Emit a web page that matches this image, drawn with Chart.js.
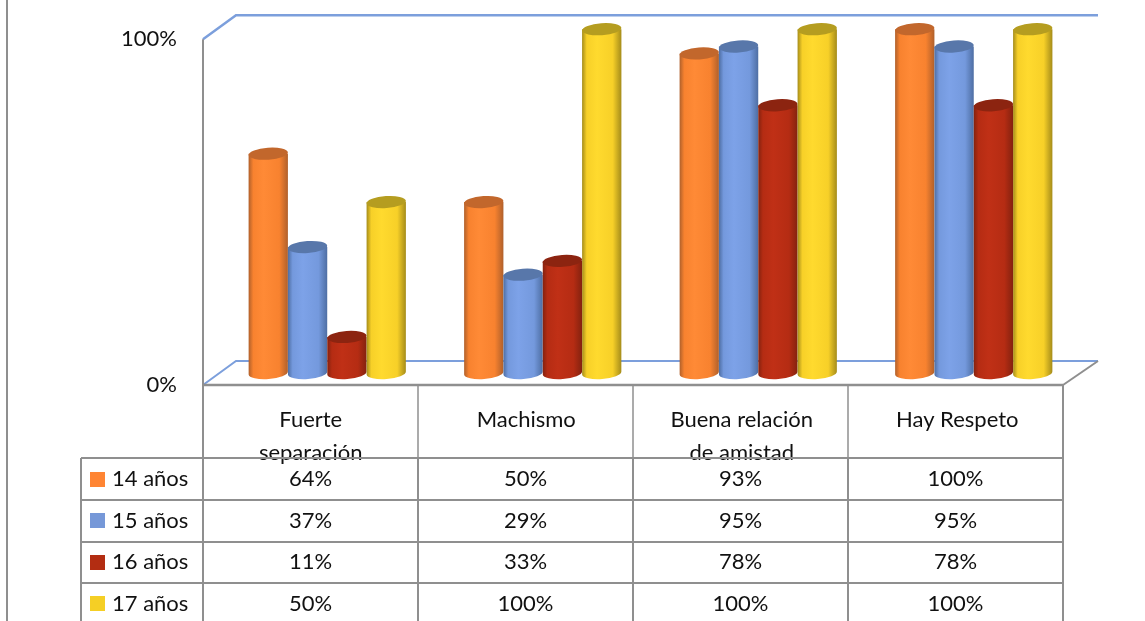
<!DOCTYPE html>
<html>
<head>
<meta charset="utf-8">
<style>
  html, body { margin: 0; padding: 0; background: #fff; overflow: hidden; }
  canvas { display: block; }
</style>
<script src="https://cdn.jsdelivr.net/npm/chart.js@4/dist/chart.umd.min.js"></script>
</head>
<body>
<canvas id="myChart" width="1145" height="621"></canvas>
<script>
const categories = [['Fuerte', 'separación'], ['Machismo'], ['Buena relación', 'de amistad'], ['Hay Respeto']];
const seriesNames = ['14 años', '15 años', '16 años', '17 años'];
const values14 = [64, 50, 93, 100];
const values15 = [37, 29, 95, 95];
const values16 = [11, 33, 78, 78];
const values17 = [50, 100, 100, 100];
const yTicks = [0, 100];

const keyColors = ['#FF8533', '#7698D8', '#B32D12', '#F5CF25'];
// edge, highlight, mid, top of each cylinder
const shades = [
  ['#B0602B', '#FF8A36', '#F8822F', '#C2672C'],
  ['#4E6EA3', '#7DA2E8', '#7499DD', '#5877AA'],
  ['#84220F', '#C03016', '#B52C13', '#8C2410'],
  ['#A58C1A', '#FFDA2E', '#F7D028', '#B59D20'],
];

const FONT = 'Lato, sans-serif';
const GREY = '#8f8f8f';
const BLUE = '#7C9FDC';
const depthX = 33, depthY = 24;
const tableRight = 1063, colWidth = 215, legendLeft = 81;
const rowLines = [458, 500, 542, 583];
const rowText = [479, 521, 562, 604];
const keyTops = [472, 513, 555, 596];

function line(ctx, color, width, pts) {
  ctx.strokeStyle = color;
  ctx.lineWidth = width;
  ctx.beginPath();
  pts.forEach((p, i) => (i ? ctx.lineTo(p[0], p[1]) : ctx.moveTo(p[0], p[1])));
  ctx.stroke();
}

function cylinder(ctx, el, shade) {
  const props = el.getProps(['x', 'y', 'base', 'width'], true);
  const cx = props.x + depthX / 2, rx = props.width / 2, ry = 6, tilt = -0.07;
  const top = props.y - depthY / 2 + 2, bottom = props.base - depthY / 2;

  const grad = ctx.createLinearGradient(cx - rx, 0, cx + rx, 0);
  grad.addColorStop(0, shade[0]);
  grad.addColorStop(0.12, shade[2]);
  grad.addColorStop(0.38, shade[1]);
  grad.addColorStop(0.78, shade[2]);
  grad.addColorStop(1, shade[0]);

  ctx.fillStyle = grad;
  ctx.beginPath();
  ctx.ellipse(cx, bottom, rx, ry, tilt, 0, Math.PI);
  ctx.lineTo(cx - rx, top);
  ctx.lineTo(cx + rx, top);
  ctx.closePath();
  ctx.fill();

  ctx.fillStyle = shade[3];
  ctx.beginPath();
  ctx.ellipse(cx, top, rx, ry, tilt, 0, Math.PI * 2);
  ctx.fill();
}

const cylinders = {
  id: 'cylinders',
  beforeDatasetsDraw(chart) {
    const { ctx, chartArea: a } = chart;
    ctx.save();
    // back wall and floor
    line(ctx, BLUE, 2.5, [[a.left, a.top], [a.left + depthX, a.top - depthY], [a.right + depthX, a.top - depthY]]);
    line(ctx, BLUE, 2, [[a.left, a.bottom], [a.left + depthX, a.bottom - depthY], [a.right + depthX, a.bottom - depthY]]);
    line(ctx, GREY, 2, [[a.left, a.top], [a.left, a.bottom]]);
    line(ctx, GREY, 2, [[a.right + depthX, a.bottom - depthY], [tableRight, a.bottom]]);
    line(ctx, GREY, 2.5, [[a.left, a.bottom], [tableRight, a.bottom]]);

    categories.forEach((c, i) => {
      chart.data.datasets.forEach((ds, d) => {
        cylinder(ctx, chart.getDatasetMeta(d).data[i], shades[d]);
      });
    });
    ctx.restore();
    return false;
  },
};

const dataTable = {
  id: 'dataTable',
  afterDraw(chart) {
    const { ctx, chartArea: a } = chart;
    const datasets = chart.data.datasets;
    ctx.save();
    // page frame on the far left
    line(ctx, GREY, 2, [[7, 0], [7, 621]]);
    // rows
    rowLines.forEach(y => line(ctx, GREY, 2, [[legendLeft, y], [tableRight, y]]));
    // columns
    line(ctx, GREY, 2, [[legendLeft, rowLines[0]], [legendLeft, 621]]);
    categories.forEach((c, i) => {
      const x = a.left + colWidth * i;
      line(ctx, GREY, i ? 1.5 : 2, [[x, a.bottom], [x, rowLines[0]]]);
      line(ctx, GREY, 2, [[x, rowLines[0]], [x, 621]]);
    });
    line(ctx, GREY, 2, [[tableRight, a.bottom], [tableRight, 621]]);

    ctx.font = '22px ' + FONT;
    ctx.fillStyle = '#111';
    ctx.textBaseline = 'middle';
    datasets.forEach((ds, d) => {
      ctx.fillStyle = keyColors[d];
      ctx.fillRect(90, keyTops[d], 15, 15);
      ctx.fillStyle = '#111';
      ctx.textAlign = 'left';
      ctx.fillText(ds.label, 112, rowText[d]);
      ctx.textAlign = 'center';
      ds.data.forEach((v, i) => {
        ctx.fillText(v + '%', a.left + colWidth * (i + 0.5), rowText[d]);
      });
    });
    ctx.restore();
  },
};

new Chart(document.getElementById('myChart').getContext('2d'), {
  type: 'bar',
  data: {
    labels: categories,
    datasets: [values14, values15, values16, values17].map((data, d) => ({
      label: seriesNames[d],
      data: data,
      backgroundColor: keyColors[d],
    })),
  },
  options: {
    responsive: false,
    animation: false,
    layout: { padding: { left: 0, right: 80, top: 37, bottom: 0 } },
    datasets: { bar: { categoryPercentage: 0.73, barPercentage: 1 } },
    plugins: { legend: { display: false }, tooltip: { enabled: false } },
    scales: {
      x: {
        grid: { display: false },
        border: { display: false },
        afterFit: s => { s.height = 236; },
        ticks: {
          autoSkip: false,
          maxRotation: 0,
          padding: 10,
          color: '#111',
          font: { family: FONT, size: 22, lineHeight: 1.5 },
        },
      },
      y: {
        min: yTicks[0],
        max: yTicks[1],
        afterBuildTicks: s => { s.ticks = yTicks.map(v => ({ value: v })); },
        afterFit: s => { s.width = 203; },
        grid: { display: false, drawTicks: false },
        border: { display: false },
        ticks: {
          padding: 26,
          color: '#111',
          font: { family: FONT, size: 22 },
          callback: v => v + '%',
        },
      },
    },
  },
  plugins: [cylinders, dataTable],
});
</script>
</body>
</html>
